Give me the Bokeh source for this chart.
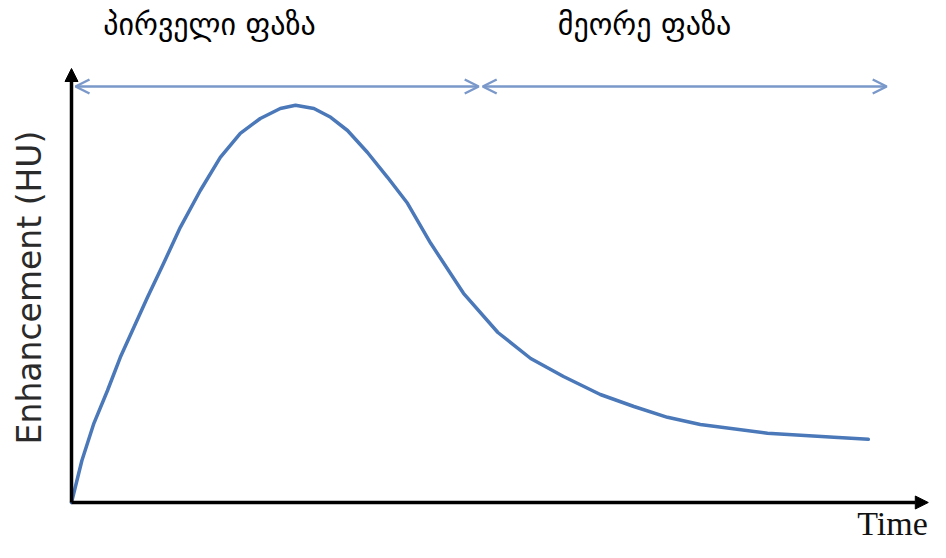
from bokeh.plotting import figure
from bokeh.models import Range1d, Arrow, NormalHead, OpenHead, Label
from bokeh.embed import file_html
from bokeh.resources import INLINE

# ---- data (time in arbitrary units, enhancement in relative HU) ----
time = [0, 0.13, 0.28, 0.45, 0.61, 0.95, 1.14, 1.36, 1.61, 1.86, 2.11, 2.36, 2.61, 2.8,
        3.03, 3.24, 3.45, 3.7, 3.95, 4.2, 4.49, 4.9, 5.33, 5.74, 6.15, 6.61,
        7.03, 7.45, 7.86, 8.7, 9.53, 9.96]
enhancement = [0, 10.5, 19.8, 28.0, 36.3, 51.3, 59.3, 68.8, 78.0, 86.3, 92.3, 96.0, 98.5, 99.3,
               98.5, 96.3, 93.0, 87.5, 81.3, 74.8, 64.8, 52.3, 42.5, 36.0, 31.5, 27.0,
               24.0, 21.3, 19.5, 17.3, 16.3, 15.8]
phase_labels = ["პირველი ფაზა", "მეორე ფაზა"]
phase_start = [0.05, 5.14]
phase_end = [5.09, 10.19]
phase_level = 104
x_label = "Time"
y_label = "Enhancement (HU)"

W, H = 930, 542
# 80 px per time unit, 4 px per HU; origin at pixel (71, 502) from top-left
p = figure(width=W, height=H, output_backend="svg", toolbar_location=None,
           x_range=Range1d((0 - 71) / 80, (W - 71) / 80),
           y_range=Range1d((502 - H) / 4, 502 / 4),
           min_border=0, min_border_left=0, min_border_right=0,
           min_border_top=0, min_border_bottom=0)
p.axis.visible = False
p.grid.visible = False
p.outline_line_color = None
p.background_fill_color = "white"
p.border_fill_color = "white"

# curve
p.line(time, enhancement, line_color="#4a78b8", line_width=3.5,
       line_join="round", line_cap="round")

# axes as arrows
head = dict(size=13, fill_color="black", line_color="black")
p.add_layout(Arrow(x_start=0, y_start=0, x_end=0, y_end=108.5,
                   line_color="black", line_width=3.5, end=NormalHead(**head)))
p.add_layout(Arrow(x_start=0, y_start=0, x_end=10.71, y_end=0,
                   line_color="black", line_width=3.5, end=NormalHead(**head)))

# phase double arrows
acol = "#7a98ca"
for s, e in zip(phase_start, phase_end):
    p.add_layout(Arrow(x_start=s, y_start=phase_level, x_end=e, y_end=phase_level,
                       line_color=acol, line_width=2.5,
                       start=OpenHead(size=14, line_color=acol, line_width=2.5),
                       end=OpenHead(size=14, line_color=acol, line_width=2.5)))

# phase labels (screen position of centre, y measured from bottom)
for lab, sx in zip(phase_labels, [209, 644]):
    p.add_layout(Label(x=sx, y=H - 24, x_units="screen", y_units="screen",
                       text=lab, text_font="DejaVu Sans", text_font_size="30px",
                       text_color="black", text_align="center",
                       text_baseline="middle"))

# axis titles
p.add_layout(Label(x=892, y=1, x_units="screen", y_units="screen",
                   text=x_label, text_font="Liberation Serif",
                   text_font_size="34px", text_color="#111111",
                   text_align="center", text_baseline="bottom"))
p.add_layout(Label(x=29, y=H - 287, x_units="screen", y_units="screen",
                   text=y_label, text_font="DejaVu Sans", text_font_size="33px",
                   text_color="#2a2a2a", angle=1.5708,
                   text_align="center", text_baseline="middle"))

open("out.html", "w").write(file_html(p, INLINE))
